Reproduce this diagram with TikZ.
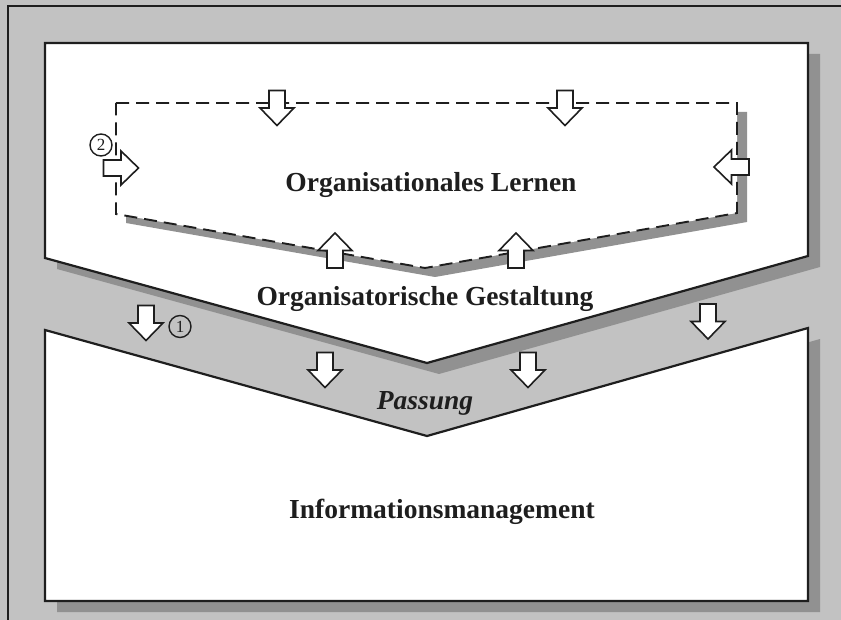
\documentclass[tikz,border=0pt]{standalone}
\usepackage{fontspec}
\setmainfont{Liberation Serif}
\definecolor{bggray}{RGB}{194,194,194}
\definecolor{shadowgray}{RGB}{145,145,145}
\definecolor{inkline}{RGB}{30,30,30}
\tikzset{
  shapeline/.style={draw=inkline, line width=2.2pt, fill=white},
  dashline/.style={draw=inkline, line width=1.9pt, dash pattern=on 13pt off 7pt},
  blockarrow/.pic={\draw[draw=inkline, fill=white, line width=1.6pt, line join=miter]
      (-17.5,-8) -- (0,-8) -- (0,-17) -- (17.5,0) -- (0,17) -- (0,8) -- (-17.5,8) -- cycle;},
  labeltext/.style={font=\fontsize{27.5}{30}\selectfont\bfseries, text=inkline, inner sep=0pt, anchor=base},
  numcircle/.style={draw=inkline, line width=1.4pt, circle, minimum size=22pt, inner sep=0pt,
      font=\fontsize{17}{17}\selectfont, text=inkline}
}
\begin{document}
\begin{tikzpicture}[x=1pt,y=-1pt]
\useasboundingbox (0,0) rectangle (841,620);
\clip (0,0) rectangle (841,620);
% background and outer frame
\fill[bggray] (0,0) rectangle (841,620);
\draw[inkline, line width=2.2pt] (8,650) -- (8,6) -- (870,6);
% shadows of the two main shapes
\begin{scope}[shift={(12,11)}]
  \fill[shadowgray] (45,43) -- (808,43) -- (808,256) -- (427,363) -- (45,258) -- cycle;
  \fill[shadowgray] (45,330) -- (427,436) -- (808,328) -- (808,601) -- (45,601) -- cycle;
\end{scope}
% upper shape: Organisatorische Gestaltung
\path[shapeline] (45,43) -- (808,43) -- (808,256) -- (427,363) -- (45,258) -- cycle;
% lower shape: Informationsmanagement
\path[shapeline] (45,330) -- (427,436) -- (808,328) -- (808,601) -- (45,601) -- cycle;
% shadow of dashed region
\begin{scope}[shift={(10,9)}]
  \fill[shadowgray] (116,103) -- (737,103) -- (737,213) -- (425,268) -- (116,214) -- cycle;
\end{scope}
\fill[white] (116,103) -- (737,103) -- (737,213) -- (425,268) -- (116,214) -- cycle;
\draw[dashline] (116,103) -- (737,103) -- (737,213) -- (425,268) -- (116,214) -- cycle;
% arrows into the dashed region
\pic[rotate=-90] at (277,108) {blockarrow};
\pic[rotate=-90] at (565,108) {blockarrow};
\pic at (121,168) {blockarrow};
\pic[rotate=180] at (731.5,167) {blockarrow};
\pic[rotate=90] at (335,250.5) {blockarrow};
\pic[rotate=90] at (516,250.5) {blockarrow};
% arrows in the Passung band
\pic[rotate=-90] at (146,323) {blockarrow};
\pic[rotate=-90] at (325,370) {blockarrow};
\pic[rotate=-90] at (528,370) {blockarrow};
\pic[rotate=-90] at (708,321.5) {blockarrow};
% numbered circles
\node[numcircle] (n2) at (101,145) {2};
\node[numcircle] (n1) at (180,326.5) {1};
% labels
\node[labeltext] (lernen) at (431,192) {Organisationales Lernen};
\node[labeltext] (gestaltung) at (425,306) {Organisatorische Gestaltung};
\node[labeltext, font=\fontsize{27.5}{30}\selectfont\bfseries\itshape] (passung) at (425,409) {Passung};
\node[labeltext] (info) at (442,518) {Informationsmanagement};
\end{tikzpicture}
\end{document}
